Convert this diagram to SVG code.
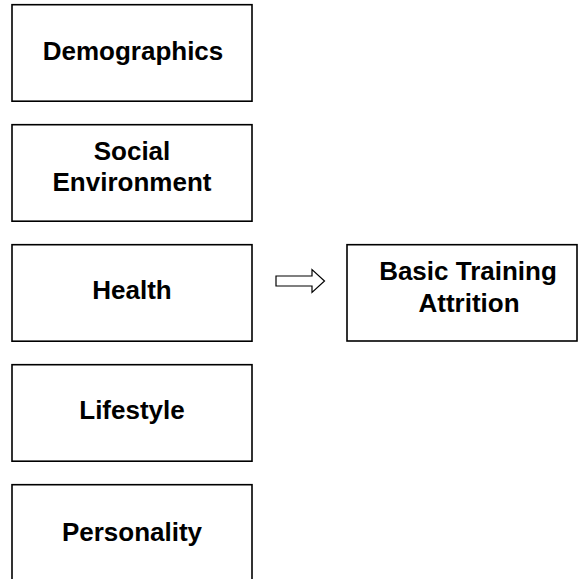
<svg xmlns="http://www.w3.org/2000/svg" width="579" height="579" viewBox="0 0 579 579">
  <style>
    .box { fill: #ffffff; stroke: #000000; stroke-width: 1.6; }
    .label { font-family: "Liberation Sans", Arial, sans-serif; font-weight: bold; font-size: 26px; fill: #000000; text-anchor: middle; }
    .arrow { fill: #ffffff; stroke: #000000; stroke-width: 1.2; stroke-linejoin: miter; }
  </style>
  <rect x="0" y="0" width="579" height="579" fill="#ffffff"/>

  <!-- factor boxes, left column -->
  <g id="demographics">
    <rect class="box" x="12" y="4.7" width="240" height="96.5"/>
    <text class="label" x="133" y="59.5">Demographics</text>
  </g>
  <g id="social-environment">
    <rect class="box" x="12" y="124.7" width="240" height="96.5"/>
    <text class="label" x="132" y="160">Social</text>
    <text class="label" x="132" y="191">Environment</text>
  </g>
  <g id="health">
    <rect class="box" x="12" y="244.7" width="240" height="96.5"/>
    <text class="label" x="132" y="299">Health</text>
  </g>
  <g id="lifestyle">
    <rect class="box" x="12" y="364.7" width="240" height="96.5"/>
    <text class="label" x="132" y="419">Lifestyle</text>
  </g>
  <g id="personality">
    <rect class="box" x="12" y="484.7" width="240" height="96.5"/>
    <text class="label" x="132" y="540.5">Personality</text>
  </g>

  <!-- outcome box -->
  <g id="basic-training-attrition">
    <rect class="box" x="347" y="244.7" width="230" height="96.3"/>
    <text class="label" x="468" y="280">Basic Training</text>
    <text class="label" x="469" y="311.5">Attrition</text>
  </g>

  <!-- block arrow -->
  <g id="connectors">
    <polygon class="arrow" points="276,276 312,276 312,269.5 324.5,281 312,292.5 312,286 276,286"/>
  </g>
</svg>
